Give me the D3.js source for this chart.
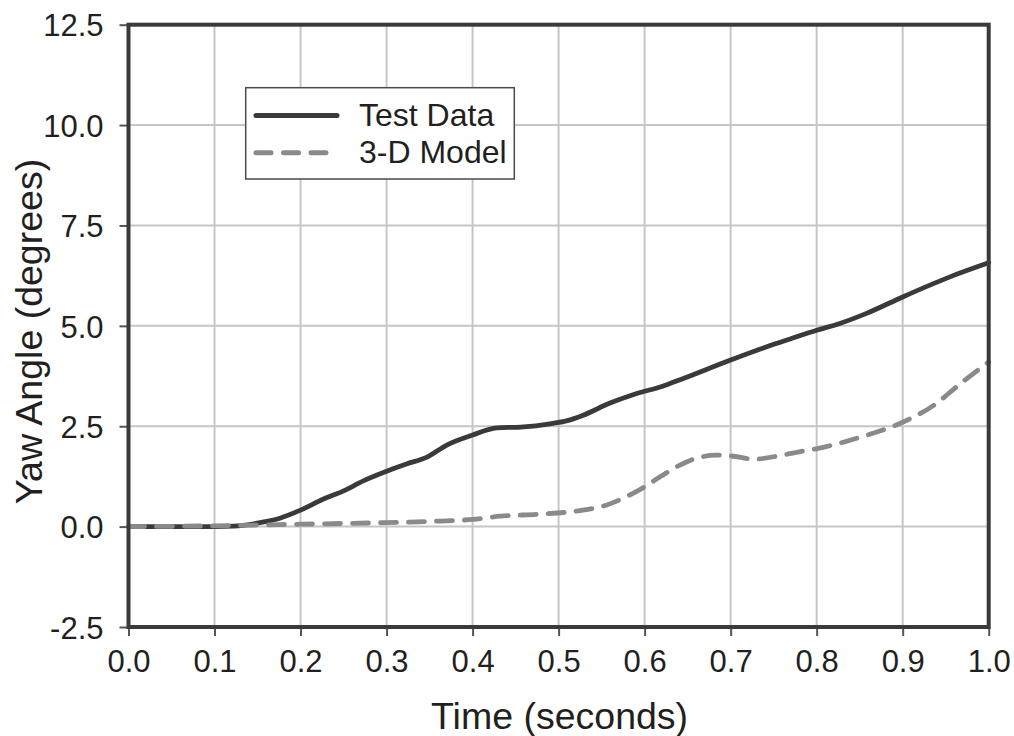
<!DOCTYPE html>
<html>
<head>
<meta charset="utf-8">
<script src="https://cdn.jsdelivr.net/npm/d3@7"></script>
<style>
  html, body { margin: 0; padding: 0; background: #fff; }
  svg { display: block; }
  text { font-family: "Liberation Sans", Arial, Helvetica, sans-serif; fill: #231f20; }
</style>
</head>
<body>
<svg id="chart" width="1014" height="736"></svg>
<script>
// ---- data ----
const testTime = [0, 0.05, 0.10, 0.122, 0.153, 0.176, 0.20, 0.226, 0.25, 0.273, 0.30, 0.323, 0.347, 0.37, 0.40, 0.428, 0.456, 0.49, 0.51, 0.528, 0.559, 0.59, 0.62, 0.645, 0.70, 0.742, 0.77, 0.80, 0.827, 0.858, 0.90, 0.955, 1.00];
const testYaw  = [0, 0.0, 0.0, 0.01, 0.10, 0.21, 0.41, 0.68, 0.89, 1.14, 1.38, 1.56, 1.73, 2.03, 2.28, 2.46, 2.48, 2.56, 2.64, 2.77, 3.07, 3.31, 3.49, 3.69, 4.15, 4.48, 4.68, 4.89, 5.06, 5.31, 5.72, 6.22, 6.57];
const modelTime = [0, 0.10, 0.15, 0.20, 0.30, 0.35, 0.40, 0.432, 0.478, 0.525, 0.556, 0.583, 0.60, 0.618, 0.641, 0.66, 0.683, 0.70, 0.728, 0.75, 0.781, 0.802, 0.851, 0.90, 0.936, 0.967, 1.00];
const modelYaw  = [0, 0.02, 0.04, 0.06, 0.10, 0.13, 0.18, 0.26, 0.31, 0.40, 0.54, 0.79, 0.99, 1.24, 1.53, 1.70, 1.78, 1.76, 1.68, 1.74, 1.87, 1.95, 2.23, 2.60, 3.02, 3.56, 4.10];
const xTicks = [0, 0.1, 0.2, 0.3, 0.4, 0.5, 0.6, 0.7, 0.8, 0.9, 1.0];
const yTicks = [-2.5, 0, 2.5, 5, 7.5, 10, 12.5];
const seriesNames = ["Test Data", "3-D Model"];
const xTitle = "Time (seconds)";
const yTitle = "Yaw Angle (degrees)";

// ---- layout ----
const svg = d3.select("#chart");
const L = 128.5, R = 988.7, T = 24.7, B = 627;
const x = d3.scaleLinear().domain([0, 1]).range([L, R]);
const y = d3.scaleLinear().domain([-2.5, 12.5]).range([B, T]);
const fmt = d => d3.format(".1f")(d).replace("\u2212", "-");

// gridlines
const grid = svg.append("g");
grid.selectAll("line.gx").data(xTicks.slice(1, -1)).enter().append("line")
  .attr("x1", d => x(d)).attr("x2", d => x(d)).attr("y1", T).attr("y2", B)
  .attr("stroke", "#c6c6c8").attr("stroke-width", 2);
grid.selectAll("line.gy").data(yTicks.slice(1, -1)).enter().append("line")
  .attr("x1", L).attr("x2", R).attr("y1", d => y(d)).attr("y2", d => y(d))
  .attr("stroke", "#c6c6c8").attr("stroke-width", 2);

// axes
const xAxis = d3.axisBottom(x).tickValues(xTicks).tickFormat(fmt).tickSize(9).tickPadding(14);
const yAxis = d3.axisLeft(y).tickValues(yTicks).tickFormat(fmt).tickSize(9).tickPadding(16);
const gx = svg.append("g").attr("transform", `translate(0,${B})`).call(xAxis);
const gy = svg.append("g").attr("transform", `translate(${L},0)`).call(yAxis);
[gx, gy].forEach(g => {
  g.select(".domain").remove();
  g.selectAll(".tick line").attr("stroke", "#555").attr("stroke-width", 2);
  g.selectAll(".tick text").attr("font-size", 31).attr("fill", "#231f20")
    .attr("font-family", "'Liberation Sans', Arial, sans-serif");
});
gy.selectAll(".tick text").attr("dy", "0.36em");

// lines
const lineGen = d3.line().x(d => x(d[0])).y(d => y(d[1])).curve(d3.curveMonotoneX);
const testPts = testTime.map((t, i) => [t, testYaw[i]]);
const modelPts = modelTime.map((t, i) => [t, modelYaw[i]]);

svg.append("path").datum(testPts).attr("d", lineGen)
  .attr("fill", "none").attr("stroke", "#3a3a3a").attr("stroke-width", 4.8)
  .attr("stroke-linejoin", "round").attr("stroke-linecap", "round");
svg.append("path").datum(modelPts).attr("d", lineGen)
  .attr("fill", "none").attr("stroke", "#8a8a8c").attr("stroke-width", 4.8)
  .attr("stroke-dasharray", "16 12").attr("stroke-linecap", "round");

// frame
svg.append("rect").attr("x", L).attr("y", T).attr("width", R - L).attr("height", B - T)
  .attr("fill", "none").attr("stroke", "#3a3a3a").attr("stroke-width", 4);

// legend
const lg = svg.append("g");
lg.append("rect").attr("x", 245.7).attr("y", 87.7).attr("width", 268.6).attr("height", 91.3)
  .attr("fill", "#fff").attr("stroke", "#4a4a4a").attr("stroke-width", 1.5);
const legendItems = [
  { name: seriesNames[0], color: "#3a3a3a", dash: null, yy: 115.5 },
  { name: seriesNames[1], color: "#8a8a8c", dash: "15 12.5", yy: 152.7 }
];
legendItems.forEach(it => {
  lg.append("line").attr("x1", 256).attr("x2", 337).attr("y1", it.yy).attr("y2", it.yy)
    .attr("stroke", it.color).attr("stroke-width", 5).attr("stroke-linecap", "round")
    .attr("stroke-dasharray", it.dash);
  lg.append("text").attr("x", 359).attr("y", it.yy + 10.5).attr("font-size", 32).text(it.name);
});

// axis titles
svg.append("text").attr("x", (L + R) / 2 + 1).attr("y", 729).attr("text-anchor", "middle")
  .attr("font-size", 37.5).text(xTitle);
svg.append("text").attr("transform", `translate(42,${331.5}) rotate(-90)`).attr("text-anchor", "middle")
  .attr("font-size", 37.5).text(yTitle);
</script>
</body>
</html>
